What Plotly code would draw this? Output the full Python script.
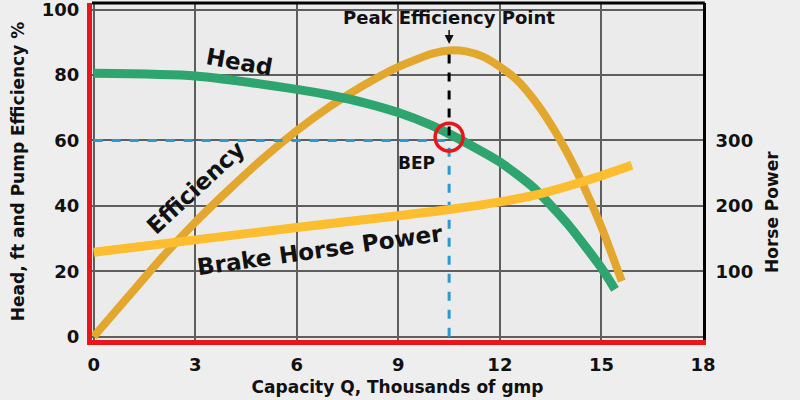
import plotly.graph_objects as go

# ---- data ----
x_ticks = [0, 3, 6, 9, 12, 15, 18]
y_ticks = [0, 20, 40, 60, 80, 100]
hp_ticks = [100, 200, 300]

head_q = [0, 3, 6, 7, 8, 9, 10, 10.5, 11, 12, 13, 14, 15, 15.4]
head_ft = [80.5, 79.7, 75.6, 73.8, 71.5, 68.5, 64.5, 62, 59.3, 53.4, 45.5, 34.5, 21, 14.5]

eff_q = [0, 1, 2, 3, 4, 5, 6, 7, 8, 9, 10, 10.5, 11, 11.5, 12, 12.5, 13, 13.5, 14, 14.5, 15, 15.6]
eff_pct = [0, 12, 24, 35, 45, 54.5, 63, 70.5, 77, 82.5, 86.5, 87.5, 87.2, 85.6, 82.5, 78.5, 72.5, 65, 56, 45.5, 33.5, 17]

bhp_q = [0, 3, 6, 9, 10, 11, 12, 13, 14, 15, 15.9]
bhp_hp = [129, 148, 167, 185, 191, 198, 206, 216, 230, 246, 262]

bep_q = 10.5
bep_val = 60
peak_eff = 87.5

FONT = "DejaVu Sans"
GREEN = "#2EA56E"
GOLD = "#E2A72C"
YELLOW = "#FCBD2F"
BLUE = "#2B9AD0"
RED = "#E8161B"
INK = "#111111"


def tip_sizes(arr, s):
    return [0] * (len(arr) - 1) + [s]


fig = go.Figure()

# Efficiency (bottom layer)
fig.add_trace(go.Scatter(
    x=eff_q, y=eff_pct, mode="lines+markers",
    line=dict(color=GOLD, width=8, shape="spline", smoothing=0.6),
    marker=dict(symbol="arrow", angleref="previous", size=tip_sizes(eff_q, 11),
                color=GOLD, line=dict(width=0)),
    showlegend=False, hoverinfo="skip"))

# Head
fig.add_trace(go.Scatter(
    x=head_q, y=head_ft, mode="lines+markers",
    line=dict(color=GREEN, width=9, shape="spline", smoothing=0.6),
    marker=dict(symbol="arrow", angleref="previous", size=tip_sizes(head_q, 12),
                color=GREEN, line=dict(width=0)),
    showlegend=False, hoverinfo="skip"))

# Brake horse power on the right axis (top layer)
fig.add_trace(go.Scatter(
    x=bhp_q, y=bhp_hp, mode="lines+markers", yaxis="y2",
    line=dict(color=YELLOW, width=9, shape="spline", smoothing=0.6),
    marker=dict(symbol="arrow", angleref="previous", size=tip_sizes(bhp_q, 14),
                color=YELLOW, line=dict(width=0)),
    showlegend=False, hoverinfo="skip"))

# BEP guide lines
fig.add_trace(go.Scatter(
    x=[0, bep_q], y=[bep_val, bep_val], mode="lines",
    line=dict(color=BLUE, width=3, dash="dash"), showlegend=False, hoverinfo="skip"))
fig.add_trace(go.Scatter(
    x=[bep_q, bep_q], y=[0, bep_val], mode="lines",
    line=dict(color=BLUE, width=3, dash="dash"), showlegend=False, hoverinfo="skip"))
fig.add_trace(go.Scatter(
    x=[bep_q, bep_q], y=[bep_val + 1.5, peak_eff], mode="lines",
    line=dict(color="black", width=3, dash="dash"), showlegend=False, hoverinfo="skip"))

# BEP circle
fig.add_trace(go.Scatter(
    x=[bep_q], y=[bep_val + 1], mode="markers",
    marker=dict(symbol="circle-open", size=28, color=RED, line=dict(width=3.5, color=RED)),
    showlegend=False, hoverinfo="skip"))

# curve labels
lab = dict(family=FONT, size=23, color=INK)
fig.add_annotation(x=4.3, y=84, text="<b>Head</b>", showarrow=False, textangle=10, font=lab)
fig.add_annotation(x=3.0, y=45.5, text="<b>Efficiency</b>", showarrow=False, textangle=-43, font=lab)
fig.add_annotation(x=6.7, y=26.5, text="<b>Brake Horse Power</b>", showarrow=False, textangle=-8, font=lab)
fig.add_annotation(x=bep_q - 0.95, y=bep_val - 7, text="<b>BEP</b>", showarrow=False,
                   font=dict(family=FONT, size=17, color=INK))
fig.add_annotation(x=bep_q, y=peak_eff + 2, text="<b>Peak Efficiency Point</b>", showarrow=True,
                   ax=0, ay=-26, arrowhead=2, arrowwidth=1.5, arrowsize=1.2, arrowcolor=INK,
                   font=dict(family=FONT, size=18, color=INK))
fig.add_annotation(xref="paper", yref="paper", x=1.113, y=0.38, xanchor="center", yanchor="middle",
                   text="<b>Horse Power</b>", showarrow=False, textangle=-90,
                   font=dict(family=FONT, size=17, color=INK))

# top border
fig.add_shape(type="line", xref="paper", yref="paper", x0=0, x1=1.003, y0=1, y1=1,
              line=dict(color="black", width=3))

tickfont = dict(family=FONT, size=18, color=INK)
fig.update_layout(
    width=800, height=400,
    margin=dict(l=92, r=97, t=3, b=60, autoexpand=False),
    plot_bgcolor="#EBEBEB", paper_bgcolor="#EEEEEE",
    xaxis=dict(range=[-0.05, 18], tickvals=x_ticks, ticktext=[f"<b>{v}</b>" for v in x_ticks],
               showgrid=True, gridcolor="#5E5E5E", gridwidth=1.5, zeroline=False,
               showline=True, linecolor=RED, linewidth=5, ticks="", tickfont=tickfont,
               automargin=False, ticklabeloverflow="allow", ticklabelstandoff=4,
               title=dict(text="<b>Capacity Q, Thousands of gmp</b>", standoff=9,
                          font=dict(family=FONT, size=17, color=INK))),
    yaxis=dict(range=[-1, 102], tickvals=y_ticks, ticktext=[f"<b>{v}</b>" for v in y_ticks],
               showgrid=True, gridcolor="#5E5E5E", gridwidth=1.5, zeroline=False,
               showline=True, linecolor=RED, linewidth=5, ticks="", tickfont=tickfont,
               automargin=False, ticklabeloverflow="allow", ticklabelstandoff=4,
               title=dict(text="<b>Head, ft and Pump Efficiency %</b>", standoff=14,
                          font=dict(family=FONT, size=17, color=INK))),
    yaxis2=dict(range=[-5, 510], overlaying="y", side="right", tickvals=hp_ticks,
                ticktext=[f"<b>{v}</b>" for v in hp_ticks], showgrid=False, zeroline=False,
                showline=True, linecolor="black", linewidth=3, ticks="", tickfont=tickfont,
                automargin=False, ticklabeloverflow="allow", ticklabelstandoff=6),
)

fig.write_html("out.html", config={"displayModeBar": False},
               post_script="document.body.style.margin='0';")
